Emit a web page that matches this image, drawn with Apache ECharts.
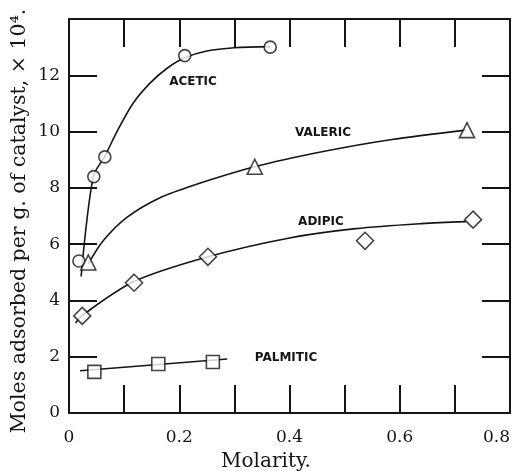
<!DOCTYPE html>
<html>
<head>
<meta charset="utf-8">
<script src="https://cdn.jsdelivr.net/npm/echarts@6/dist/echarts.min.js"></script>
<style>
  html, body { margin: 0; padding: 0; background: #fff; }
  #chart { width: 517px; height: 471px; }
</style>
</head>
<body>
<div id="chart"></div>
<script>
// Measured adsorption points (molarity, moles adsorbed per g x 10^4)
const aceticPoints   = [[0.018, 5.4], [0.045, 8.4], [0.065, 9.1], [0.21, 12.7], [0.365, 13.0]];
const valericPoints  = [[0.035, 5.35], [0.337, 8.75], [0.722, 10.05]];
const adipicPoints   = [[0.024, 3.45], [0.118, 4.63], [0.252, 5.55], [0.537, 6.12], [0.733, 6.87]];
const palmiticPoints = [[0.046, 1.46], [0.162, 1.74], [0.261, 1.81]];

// Hand-fitted isotherm curves through the measurements
const aceticCurve   = [[0.022, 4.85], [0.044, 8.4], [0.065, 9.12], [0.087, 10.0], [0.116, 11.0],
                       [0.147, 11.72], [0.178, 12.25], [0.21, 12.62], [0.25, 12.86], [0.30, 12.98], [0.365, 13.02]];
const valericCurve  = [[0.035, 5.3], [0.062, 6.12], [0.105, 6.95], [0.165, 7.65], [0.23, 8.12],
                       [0.337, 8.75], [0.461, 9.29], [0.583, 9.71], [0.72, 10.05]];
const adipicCurve   = [[0.012, 3.2], [0.024, 3.47], [0.118, 4.67], [0.252, 5.55], [0.40, 6.22],
                       [0.52, 6.55], [0.64, 6.73], [0.72, 6.8]];
const palmiticCurve = [[0.02, 1.5], [0.287, 1.92]];

// Axis ranges and labelled ticks
const xRange = [0, 0.8];
const yRange = [0, 14];
const xTickLabels = ['0', '0.2', '0.4', '0.6', '0.8'];
const yTickLabels = ['0', '2', '4', '6', '8', '10', '12'];

const seriesNames = ['ACETIC', 'VALERIC', 'ADIPIC', 'PALMITIC'];

const INK = '#151515';
const serif = '"DejaVu Serif", "Liberation Serif", serif';

const chart = echarts.init(document.getElementById('chart'), null, { renderer: 'canvas' });

function fmtX(v) {
  const s = String(Math.round(v * 10) / 10);
  return xTickLabels.indexOf(s) >= 0 ? s : '';
}
function fmtY(v) {
  const s = String(Math.round(v));
  return yTickLabels.indexOf(s) >= 0 ? s : '';
}

function frameAxis(extra) {
  return Object.assign({
    type: 'value',
    axisLine: { show: true, onZero: false, lineStyle: { color: INK, width: 2 } },
    axisTick: { show: true, inside: true, length: 28, lineStyle: { color: INK, width: 2 } },
    splitLine: { show: false }
  }, extra);
}

function curve(data) {
  return {
    type: 'line', data: data, smooth: 0.3, showSymbol: false, symbol: 'none',
    lineStyle: { color: INK, width: 1.6 }, z: 2, silent: true
  };
}
function points(data, symbol, size) {
  return {
    type: 'scatter', data: data, symbol: symbol, symbolSize: size,
    itemStyle: { color: '#fff', borderColor: INK, borderWidth: 1.6 }, z: 3, silent: true
  };
}

chart.setOption({
  backgroundColor: '#fff',
  animation: false,
  grid: { left: 69, right: 7, top: 19, bottom: 58 },
  xAxis: [
    frameAxis({
      position: 'bottom', min: xRange[0], max: xRange[1], interval: 0.1,
      axisLabel: { formatter: fmtX, margin: 16, color: INK, fontFamily: serif, fontSize: 17,
                   showMinLabel: true, showMaxLabel: true, alignMaxLabel: 'right' }
    }),
    frameAxis({
      position: 'top', min: xRange[0], max: xRange[1], interval: 0.1,
      axisLabel: { show: false }
    })
  ],
  yAxis: [
    frameAxis({
      position: 'left', min: yRange[0], max: yRange[1], interval: 2,
      axisLabel: { formatter: fmtY, margin: 9, color: INK, fontFamily: serif, fontSize: 17 }
    }),
    frameAxis({
      position: 'right', min: yRange[0], max: yRange[1], interval: 2,
      axisLabel: { show: false }
    })
  ],
  series: [
    curve(aceticCurve), curve(valericCurve), curve(adipicCurve), curve(palmiticCurve),
    points(aceticPoints, 'circle', 12),
    points(valericPoints, 'triangle', 15),
    points(adipicPoints, 'diamond', 17),
    points(palmiticPoints, 'rect', 13)
  ]
});

// Curve name tags and axis titles
const tagStyle = { fill: INK, fontFamily: '"DejaVu Sans", sans-serif', fontWeight: 'bold', fontSize: 12,
                   align: 'center', verticalAlign: 'middle' };
const tagPos = [[193, 82], [323, 133], [321, 222], [286, 358]];

chart.setOption({
  graphic: seriesNames.map(function (name, i) {
    return { type: 'text', x: tagPos[i][0], y: tagPos[i][1], silent: true,
             style: Object.assign({ text: name }, tagStyle) };
  }).concat([
    { type: 'text', x: 266, y: 462, silent: true,
      style: { text: 'Molarity.', fill: INK, fontFamily: serif, fontSize: 20,
               align: 'center', verticalAlign: 'middle' } },
    { type: 'text', x: 20, y: 221, rotation: Math.PI / 2, silent: true,
      style: { text: 'Moles adsorbed per g. of catalyst, \u00d7 10\u2074.', fill: INK, fontFamily: serif,
               fontSize: 20.5, align: 'center', verticalAlign: 'middle' } }
  ])
});
</script>
</body>
</html>
